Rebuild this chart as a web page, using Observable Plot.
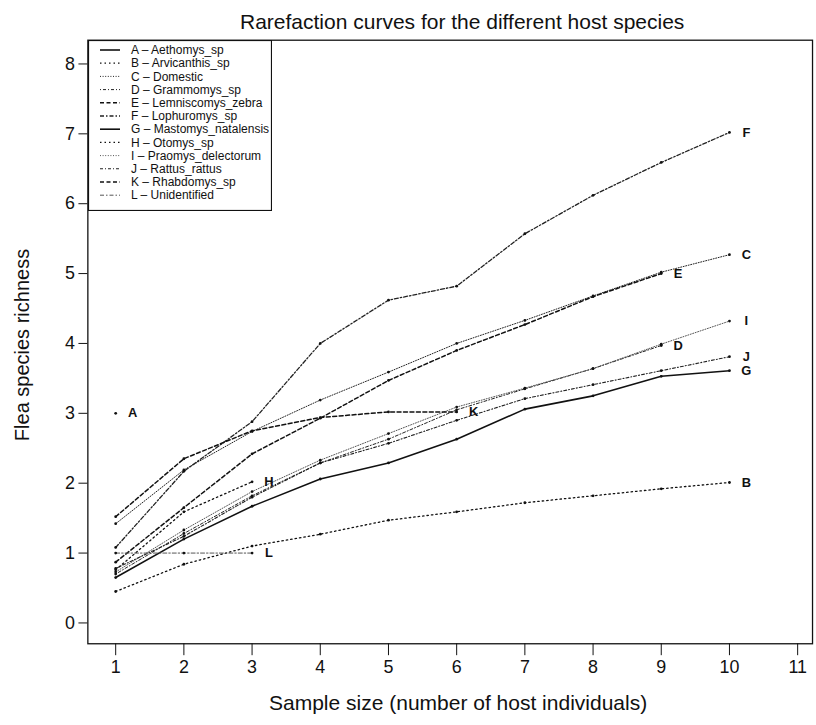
<!DOCTYPE html>
<html><head><meta charset="utf-8">
<script src="https://cdn.jsdelivr.net/npm/d3@7"></script>
<script src="https://cdn.jsdelivr.net/npm/@observablehq/plot@0.6"></script>
<style>
body{margin:0;background:#fff;}
#wrap{position:relative;width:816px;height:725px;overflow:hidden;font-family:"Liberation Sans",Arial,sans-serif;color:#111;}
#plot{position:absolute;left:0;top:0;}
#legend{position:absolute;left:88px;top:40px;}
.t{position:absolute;white-space:nowrap;font-size:21px;line-height:1;}
#yt{font-size:20px;}
</style></head><body><div id="wrap"><div id="plot"></div><svg id="legend"></svg>
<div class="t" id="title">Rarefaction curves for the different host species</div>
<div class="t" id="xt">Sample size (number of host individuals)</div>
<div class="t" id="yt">Flea species richness</div>
</div>
<script>
// ---- data ----
const letters = ["A","B","C","D","E","F","G","H","I","J","K","L"];
const names = ["Aethomys_sp","Arvicanthis_sp","Domestic","Grammomys_sp","Lemniscomys_zebra","Lophuromys_sp","Mastomys_natalensis","Otomys_sp","Praomys_delectorum","Rattus_rattus","Rhabdomys_sp","Unidentified"];
const A = [3.0];
const B = [0.45, 0.84, 1.10, 1.27, 1.47, 1.59, 1.72, 1.82, 1.92, 2.01];
const C = [1.42, 2.19, 2.74, 3.19, 3.59, 4.00, 4.33, 4.68, 5.02, 5.27];
const D = [0.70, 1.28, 1.82, 2.29, 2.63, 3.05, 3.35, 3.64, 3.97];
const E = [0.87, 1.65, 2.42, 2.93, 3.47, 3.90, 4.27, 4.67, 5.00];
const F = [1.08, 2.17, 2.88, 4.00, 4.62, 4.82, 5.57, 6.12, 6.59, 7.02];
const G = [0.65, 1.20, 1.67, 2.06, 2.29, 2.63, 3.06, 3.25, 3.53, 3.61];
const H = [0.76, 1.59, 2.02];
const I = [0.73, 1.33, 1.88, 2.33, 2.71, 3.09, 3.36, 3.64, 3.99, 4.32];
const J = [0.78, 1.24, 1.80, 2.29, 2.57, 2.90, 3.21, 3.41, 3.61, 3.81];
const K = [1.52, 2.35, 2.75, 2.94, 3.02, 3.02];
const L = [1.0, 1.0, 1.0];
const series = [A,B,C,D,E,F,G,H,I,J,K,L];
const xTicks = [1,2,3,4,5,6,7,8,9,10,11];
const yTicks = [0,1,2,3,4,5,6,7,8];

// ---- styles ----
const styles = [
  {dash:null, w:1.6, c:"#111"},
  {dash:"1.5,3", w:1.3, c:"#111"},
  {dash:"1,1.6", w:1, c:"#222"},
  {dash:"1,2,3,2", w:1, c:"#222"},
  {dash:"4,2.5", w:1.5, c:"#111"},
  {dash:"4,2,1.5,2", w:1.3, c:"#222"},
  {dash:null, w:1.6, c:"#111"},
  {dash:"1.5,3", w:1.3, c:"#111"},
  {dash:"1,1.6", w:1, c:"#555"},
  {dash:"3,2,1,2", w:1.1, c:"#222"},
  {dash:"4,2.5", w:1.5, c:"#111"},
  {dash:"4,2,1.5,2", w:1, c:"#555"}
];

const rowsBy = series.map((vals, i) => vals.map((v, j) => ({key: letters[i], x: j + 1, y: v})));
const allRows = rowsBy.flat();
const endRows = rowsBy.map(r => r[r.length - 1]);

const font = "Liberation Sans, Arial, sans-serif";
const marks = [Plot.frame({stroke:"#111", strokeWidth:1.3})];
rowsBy.forEach((r, i) => {
  if (r.length > 1) marks.push(Plot.line(r, {x:"x", y:"y", stroke:styles[i].c, strokeWidth:styles[i].w, strokeDasharray:styles[i].dash}));
});
marks.push(Plot.dot(allRows, {x:"x", y:"y", r:1.4, fill:"#111"}));
marks.push(Plot.text(endRows, {x:"x", y:"y", text:"key", dx:17, fontWeight:"bold", fontSize:13, fill:"#111"}));
marks.push(Plot.axisX(xTicks, {tickSize:12, tickPadding:5, fontSize:18, label:null, stroke:"#111", tickFormat:d3.format("d")}));
marks.push(Plot.axisY(yTicks, {tickSize:9, tickPadding:4, fontSize:18, label:null, stroke:"#111", tickFormat:d3.format("d")}));

const chart = Plot.plot({
  width: 822, height: 725,
  marginLeft: 88, marginRight: 4, marginTop: 40, marginBottom: 77,
  style: {fontFamily: font, background: "#fff", color:"#111"},
  x: {domain: [0.592, 11.218]},
  y: {domain: [-0.298, 8.34]},
  marks
});
document.getElementById("plot").appendChild(chart);

// ---- legend ----
const lg = d3.select("#legend").attr("width", 184).attr("height", 171);
lg.append("rect").attr("x", 0.5).attr("y", 0.5).attr("width", 183).attr("height", 170)
  .attr("fill", "#fff").attr("stroke", "#111").attr("stroke-width", 1.2);
letters.forEach((l, i) => {
  const yy = 10 + i * 13.2;
  lg.append("line").attr("x1", 12).attr("x2", 32).attr("y1", yy).attr("y2", yy)
    .attr("stroke", styles[i].c).attr("stroke-width", styles[i].w)
    .attr("stroke-dasharray", styles[i].dash);
  lg.append("text").attr("x", 43).attr("y", yy).attr("dy", "0.35em")
    .attr("font-size", 12).attr("font-family", font).attr("fill", "#111")
    .text(`${l} \u2013 ${names[i]}`);
});

// ---- titles ----
function place(id, cx, cy, rot) {
  const el = document.getElementById(id);
  const w = el.offsetWidth, h = el.offsetHeight;
  el.style.left = (cx - w / 2) + "px";
  el.style.top = (cy - h / 2) + "px";
  if (rot) el.style.transform = "rotate(-90deg)";
}
place("title", 462, 21);
place("xt", 458, 702);
place("yt", 22, 345, true);
</script></body></html>
